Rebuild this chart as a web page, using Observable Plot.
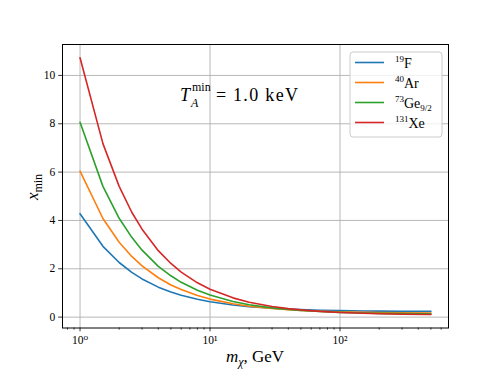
<!DOCTYPE html>
<html><head><meta charset="utf-8">
<script src="https://cdn.jsdelivr.net/npm/d3@7"></script>
<script src="https://cdn.jsdelivr.net/npm/@observablehq/plot@0.6"></script>
<style>body{margin:0;background:#fff}</style>
</head><body><div id="chart"></div>
<script>
// WIMP masses (GeV)
const masses = [1, 1.5, 2, 2.5, 3, 4, 5, 6, 8, 10, 15, 20, 30, 40, 50, 70, 100, 150, 200, 300, 500];
// x_min values
const xF  = [4.28, 2.93, 2.26, 1.85, 1.58, 1.24, 1.04, 0.905, 0.736, 0.634, 0.499, 0.432, 0.364, 0.330, 0.310, 0.287, 0.270, 0.256, 0.249, 0.243, 0.237];
const xAr = [6.04, 4.08, 3.10, 2.51, 2.12, 1.63, 1.33, 1.14, 0.893, 0.746, 0.550, 0.452, 0.354, 0.305, 0.276, 0.242, 0.217, 0.197, 0.187, 0.178, 0.170];
const xGe = [8.06, 5.41, 4.09, 3.30, 2.77, 2.10, 1.71, 1.44, 1.11, 0.912, 0.647, 0.514, 0.382, 0.316, 0.276, 0.231, 0.196, 0.170, 0.157, 0.143, 0.133];
const xXe = [10.73, 7.18, 5.41, 4.34, 3.64, 2.75, 2.22, 1.86, 1.42, 1.15, 0.797, 0.619, 0.442, 0.353, 0.300, 0.239, 0.193, 0.158, 0.140, 0.122, 0.108];
const seriesKeys = ["F", "Ar", "Ge", "Xe"];
const seriesColors = ["#1f77b4", "#ff7f0e", "#2ca02c", "#d62728"];
const yTicks = [0, 2, 4, 6, 8, 10];
const xMajorTicks = [1, 10, 100];
const xMinorTicks = [0.8, 0.9, 2, 3, 4, 5, 6, 7, 8, 9, 20, 30, 40, 50, 60, 70, 80, 90, 200, 300, 400, 500, 600];
const supDigits = {"0":"⁰","1":"¹","2":"²"};

const allSeries = [xF, xAr, xGe, xXe];
const rows = [];
allSeries.forEach((vals, i) => vals.forEach((v, j) => rows.push({m: masses[j], x: v, s: seriesKeys[i]})));

const W = 498, H = 374;
const mL = 62, mR = 50, mT = 44, mB = 46.5;
const font = "'Liberation Serif', 'DejaVu Serif', serif";

const chart = Plot.plot({
  width: W, height: H,
  marginLeft: mL, marginRight: mR, marginTop: mT, marginBottom: mB,
  style: {fontFamily: font, fontSize: "11px", background: "#fff", color: "#000"},
  x: {type: "log", domain: [0.733, 683], label: null},
  y: {domain: [-0.45, 11.28], label: null},
  color: {domain: seriesKeys, range: seriesColors},
  marks: [
    Plot.gridX(xMajorTicks, {stroke: "#b0b0b0", strokeOpacity: 1, strokeWidth: 0.9}),
    Plot.gridY(yTicks, {stroke: "#b0b0b0", strokeOpacity: 1, strokeWidth: 0.9}),
    Plot.line(rows, {x: "m", y: "x", z: "s", stroke: "s", strokeWidth: 1.6}),
    Plot.axisX(xMinorTicks, {tickSize: 2.2, tickFormat: () => "", label: null, strokeWidth: 0.7}),
    Plot.axisX(xMajorTicks, {tickSize: 3.8, tickPadding: 4, label: null, strokeWidth: 0.8,
      tickFormat: d => "10" + supDigits[String(Math.round(Math.log10(d)))], fontSize: 11.5}),
    Plot.axisY(yTicks, {tickSize: 3.8, tickPadding: 3.5, label: null, strokeWidth: 0.8, fontSize: 11.5}),
    Plot.frame({stroke: "#000", strokeWidth: 1})
  ]
});
document.getElementById("chart").appendChild(chart);

const svg = d3.select(chart);
const g = svg.append("g").attr("font-family", font).attr("fill", "#000").attr("text-anchor", "start");

// annotation T_A^min = 1.0 keV
g.append("text").attr("x", 180).attr("y", 101).attr("font-size", 18).attr("font-style", "italic").text("T");
g.append("text").attr("x", 192).attr("y", 91).attr("font-size", 12).text("min");
g.append("text").attr("x", 191).attr("y", 107).attr("font-size", 12).attr("font-style", "italic").text("A");
g.append("text").attr("x", 216).attr("y", 101).attr("font-size", 18).text("=");
g.append("text").attr("x", 233).attr("y", 101).attr("font-size", 18).attr("textLength", 65).text("1.0 keV");

// x label
const xl = g.append("text").attr("x", 255).attr("y", 362).attr("text-anchor", "middle").attr("font-size", 17);
xl.append("tspan").attr("font-style", "italic").text("m");
xl.append("tspan").attr("font-style", "italic").attr("font-size", 12).attr("dy", 4).text("χ");
xl.append("tspan").attr("dy", -4).text(", GeV");

// y label
const yl = g.append("text").attr("transform", "translate(38,187) rotate(-90)").attr("text-anchor", "middle").attr("font-size", 17);
yl.append("tspan").attr("font-style", "italic").text("x");
yl.append("tspan").attr("font-size", 12).attr("dy", 4).text("min");

// legend
const lg = g.append("g");
lg.append("rect").attr("x", 350).attr("y", 52).attr("width", 92).attr("height", 85).attr("rx", 3)
  .attr("fill", "#fff").attr("fill-opacity", 0.8).attr("stroke", "#cccccc").attr("stroke-width", 1);
const legendLabels = [["19", "F", null], ["40", "Ar", null], ["73", "Ge", "9/2"], ["131", "Xe", null]];
legendLabels.forEach((lab, i) => {
  const y = 62.5 + i * 20;
  lg.append("line").attr("x1", 355).attr("x2", 384).attr("y1", y).attr("y2", y)
    .attr("stroke", seriesColors[i]).attr("stroke-width", 1.6);
  const t = lg.append("text").attr("x", 395).attr("y", y + 5).attr("font-size", 14);
  t.append("tspan").attr("font-size", 9).attr("dy", -6).text(lab[0]);
  t.append("tspan").attr("dy", 6).text(lab[1]);
  if (lab[2]) t.append("tspan").attr("font-size", 9).attr("dy", 3).text(lab[2]);
});
</script>
</body></html>
